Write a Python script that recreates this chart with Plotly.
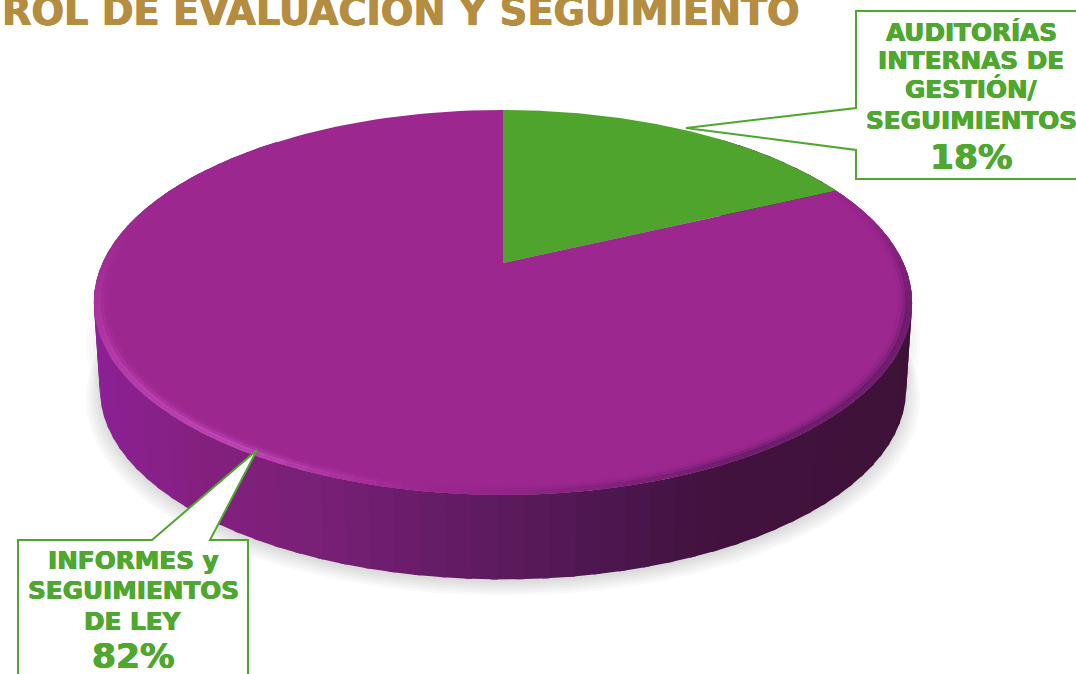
import numpy as np
import plotly.graph_objects as go

# ---- data ----
categories = ["AUDITORÍAS INTERNAS DE GESTIÓN/ SEGUIMIENTOS", "INFORMES y SEGUIMIENTOS DE LEY"]
shares = [18, 82]
slice_colors = ["#4fa42d", "#9c278f"]
title_text = "ROL DE EVALUACIÓN Y SEGUIMIENTO"
label_lines_a = ["AUDITORÍAS", "INTERNAS DE", "GESTIÓN/", "SEGUIMIENTOS"]
label_lines_b = ["INFORMES y", "SEGUIMIENTOS", "DE LEY"]

GREEN = "#4ea72e"
GOLD = "#b48d41"
FONT = "DejaVu Sans"

# ---- tilted disc projection ----
CX, CY, B, A, K = 503.0, 263.0, 400.5, 184.4, 0.205


def project(deg, r=1.0, dy=0.0, s=1.0):
    t = np.radians(np.asarray(deg, dtype=float))
    u, v = r * np.sin(t), r * np.cos(t)
    d = 1 + K * v
    return CX + s * B * u / d, CY + dy - s * A * v / d


def hexrgb(h):
    return np.array([int(h[i:i + 2], 16) for i in (1, 3, 5)], dtype=float)


def rgb(c):
    c = np.clip(c, 0, 255).round().astype(int)
    return f"rgb({c[0]},{c[1]},{c[2]})"


def mix(a, b, t):
    return a + (b - a) * t


def poly(x, y, color):
    return go.Scatter(x=list(x) + [x[0]], y=list(y) + [y[0]], mode="lines", fill="toself",
                      fillcolor=color, line=dict(width=0), hoverinfo="skip", showlegend=False)


def bold_font(size, color):
    thick = f"0.5px 0 0 {color}, -0.5px 0 0 {color}, 0 0.3px 0 {color}"
    return dict(family=FONT, size=size, color=color, shadow=thick)


fig = go.Figure()

# soft ground shadow
full = np.linspace(0, 360, 181)
for scale, off in [(1.035, 8), (1.028, 7), (1.021, 6), (1.014, 5), (1.007, 4), (1.0, 3)]:
    sx, sy = project(full, dy=88 + off, s=0.985 * scale)
    fig.add_trace(poly(sx, sy, "rgba(70,70,70,0.03)"))
for scale in (1.02, 1.012, 1.004):
    sx, sy = project(full, dy=40, s=scale)
    fig.add_trace(poly(sx, sy, "rgba(70,70,70,0.02)"))

# side wall
stops_x = [100, 200, 300, 400, 503, 600, 700, 800, 910]
stops_c = [hexrgb(c) for c in ["#8c2094", "#84207f", "#7a2078", "#6c1d6c", "#5c1a5c", "#4d1650",
                               "#43123f", "#41123c", "#3e1238"]]
edges = np.arange(40, 322, 3)
for a0, a1 in zip(edges[:-1], edges[1:]):
    seg = [a0 - 0.4, a1 + 0.4]
    tx, ty = project(seg)
    bx, by = project(seg, dy=88, s=0.985)
    mx = (tx.mean() + bx.mean()) / 2
    c = np.array([np.interp(mx, stops_x, [s[i] for s in stops_c]) for i in range(3)])
    fig.add_trace(poly([tx[0], tx[1], bx[1], bx[0]], [ty[0], ty[1], by[1], by[0]], rgb(c)))

# top face: slices come straight from the shares
start = 0.0
for share, color in zip(shares, slice_colors):
    sweep = 360.0 * share / sum(shares)
    arc = np.linspace(start, start + sweep, 160)
    ax, ay = project(arc)
    fig.add_trace(poly([CX] + list(ax), [CY] + list(ay), color))
    start += sweep

# bevel along the rim of the purple slice
base = hexrgb(slice_colors[1])
dark = hexrgb("#54175a")
light = hexrgb("#cc50c4")


def rim_tone(deg):
    if deg < 190:
        w = np.interp(deg, [75, 105, 150, 190], [0.15, 0.9, 0.9, 0.0])
        return dark, w
    w = np.interp(deg, [190, 212, 240, 280], [0.0, 1.0, 0.7, 0.05])
    return light, w


rings = [(1.0, 0.992, 0.7), (0.992, 0.984, 0.75), (0.984, 0.976, 0.38), (0.976, 0.968, 0.12)]
ring_edges = np.arange(66, 304, 3)
for r0, r1, strength in rings:
    for a0, a1 in zip(ring_edges[:-1], ring_edges[1:]):
        seg = [a0 - 0.3, a1 + 0.3]
        ox, oy = project(seg, r=r0)
        ix, iy = project(seg, r=r1)
        tone, w = rim_tone((a0 + a1) / 2)
        fig.add_trace(poly([ox[0], ox[1], ix[1], ix[0]], [oy[0], oy[1], iy[1], iy[0]],
                           rgb(mix(base, tone, w * strength))))

shapes = [
    dict(type="path", xref="x", yref="y", fillcolor="white", line=dict(color=GREEN, width=2), layer="above",
         path="M 856 11 L 1082 11 L 1082 179 L 856 179 L 856 150 L 686 128 L 856 108 Z"),
    dict(type="path", xref="x", yref="y", fillcolor="white", line=dict(color=GREEN, width=2), layer="above",
         path="M 18 540 L 152 540 L 257 450 L 210 540 L 248 540 L 248 684 L 18 684 Z"),
]

annotations = [dict(x=0, y=10.5, text=f"<b>{title_text}</b>", xanchor="left", yanchor="middle", showarrow=False,
                    font=bold_font(38.3, GOLD))]
for txt, yy in zip(label_lines_a, [32, 60, 89, 120]):
    annotations.append(dict(x=971, y=yy, text=f"<b>{txt}</b>", showarrow=False, font=bold_font(24.7, GREEN)))
annotations.append(dict(x=971, y=157, text=f"<b>{shares[0]}%</b>", showarrow=False, font=bold_font(34.5, GREEN)))
for txt, yy in zip(label_lines_b, [560, 590, 621]):
    annotations.append(dict(x=133, y=yy, text=f"<b>{txt}</b>", showarrow=False, font=bold_font(24.7, GREEN)))
annotations.append(dict(x=133, y=656, text=f"<b>{shares[1]}%</b>", showarrow=False, font=bold_font(34.5, GREEN)))

fig.update_layout(
    width=1076, height=674, autosize=False,
    margin=dict(l=0, r=0, t=0, b=0),
    paper_bgcolor="white", plot_bgcolor="white",
    xaxis=dict(range=[0, 1076], visible=False, fixedrange=True),
    yaxis=dict(range=[674, 0], visible=False, fixedrange=True),
    shapes=shapes, annotations=annotations, showlegend=False,
)
fig.write_html("out.html", config=dict(displayModeBar=False),
               post_script="document.body.style.margin='0';document.documentElement.style.overflow='hidden';")
